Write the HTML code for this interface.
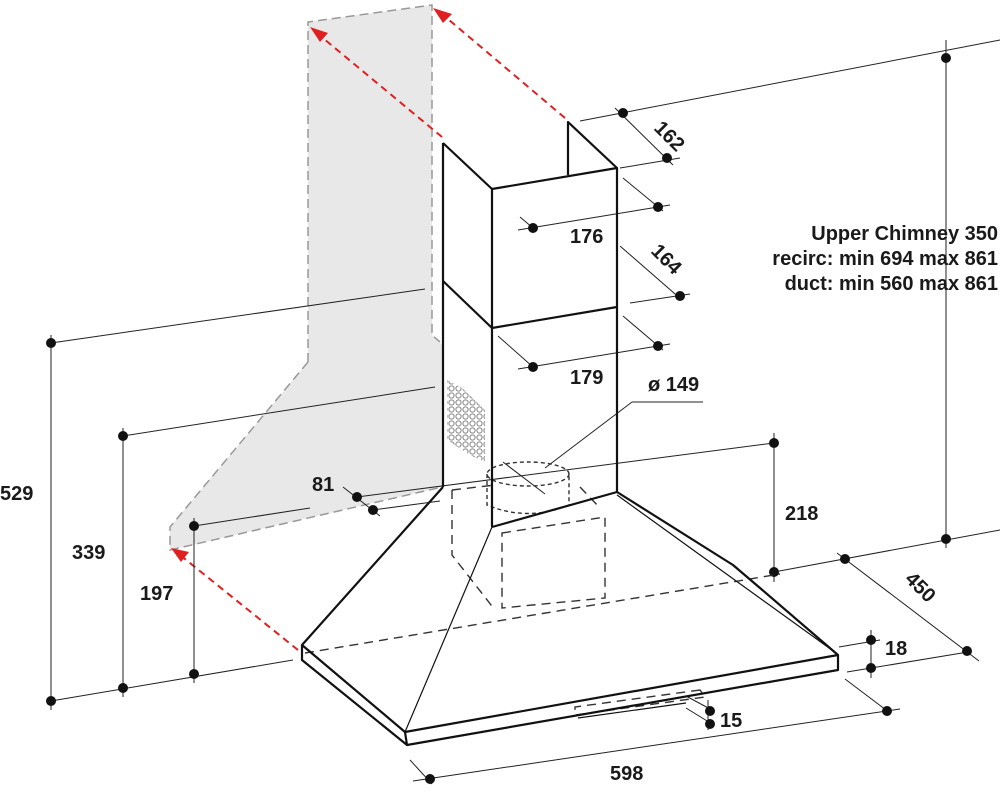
<!DOCTYPE html>
<html><head><style>
body{margin:0;background:#fff;}
svg{display:block;}
text{font-family:"Liberation Sans",sans-serif;font-weight:bold;fill:#1a1a1a;}
</style></head><body>
<svg width="1000" height="799" viewBox="0 0 1000 799" xmlns="http://www.w3.org/2000/svg">
<defs>
<pattern id="hex" width="7" height="7" patternUnits="userSpaceOnUse">
<circle cx="3.5" cy="3.5" r="2.6" fill="none" stroke="#888" stroke-width="1"/>
</pattern>
<marker id="ar" markerWidth="10" markerHeight="10" refX="1" refY="5" orient="auto" markerUnits="userSpaceOnUse">
<path d="M0,5 L14,0 L10,5 L14,10Z" fill="#e02020" transform="scale(0.9)"/>
</marker>
</defs>
<!-- gray wall silhouette -->
<path d="M308,22 L432,5 L432,335 L442,345 L442,487 L170,550 L170,527 L308,362 Z" fill="#e8e8e8"/>
<path d="M308,362 L308,22 L432,5 L432,335 L440,342 M308,362 L170,527 L170,550 L442,487" fill="none" stroke="#999" stroke-width="1.5" stroke-dasharray="9,5"/>
<!-- red dashed arrows -->
<g stroke="#e02020" stroke-width="2" stroke-dasharray="7,5" fill="none">
<line x1="442" y1="137" x2="318" y2="34"/>
<line x1="565" y1="118" x2="442" y2="14"/>
<line x1="298" y1="650" x2="180" y2="555"/>
</g>
<g fill="#e02020">
<path d="M310,27 L328,33 L320,42Z"/>
<path d="M433,8 L452,14 L443,23Z"/>
<path d="M171,548 L189,552 L181,562Z"/>
</g>
<!-- dimension thin lines -->
<g stroke="#222" stroke-width="1" fill="none">
<line x1="51" y1="335" x2="51" y2="710"/>
<line x1="51" y1="343" x2="425" y2="289"/>
<line x1="51" y1="701" x2="293" y2="660"/>
<line x1="123" y1="428" x2="123" y2="697"/>
<line x1="123" y1="436" x2="435" y2="387"/>
<line x1="194" y1="518" x2="194" y2="683"/>
<line x1="194" y1="526" x2="310" y2="508"/>
<line x1="343" y1="487" x2="380" y2="516"/>
<line x1="357" y1="497" x2="774" y2="443"/>
<line x1="373" y1="510" x2="440" y2="501"/>
<line x1="774" y1="433" x2="774" y2="582"/>
<line x1="774" y1="572" x2="1000" y2="530"/>
<line x1="946" y1="40" x2="946" y2="548"/>
<line x1="580" y1="121" x2="1000" y2="40"/>
<line x1="620" y1="168" x2="680" y2="158"/>
<line x1="615" y1="108" x2="673" y2="165"/>
<line x1="837" y1="553" x2="979" y2="661"/>
<line x1="839" y1="647" x2="880" y2="640"/>
<line x1="847" y1="672" x2="968" y2="652"/>
<line x1="871" y1="630" x2="871" y2="678"/>
<line x1="845" y1="679" x2="890" y2="713"/>
<line x1="413" y1="781" x2="900" y2="709"/>
<line x1="410" y1="760" x2="432" y2="784"/>
<line x1="520" y1="217" x2="533" y2="228"/>
<line x1="518" y1="230" x2="670" y2="205"/>
<line x1="623" y1="178" x2="663" y2="211"/>
<line x1="620" y1="246" x2="682" y2="300"/>
<line x1="630" y1="303" x2="690" y2="294"/>
<line x1="498" y1="336" x2="533" y2="367"/>
<line x1="518" y1="369" x2="670" y2="344"/>
<line x1="623" y1="316" x2="663" y2="350"/>
<line x1="632" y1="402" x2="703" y2="402"/>
<line x1="632" y1="402" x2="545" y2="468"/>
<line x1="503" y1="462" x2="545" y2="494"/>
<line x1="686" y1="696" x2="712" y2="710"/>
<line x1="686" y1="708" x2="712" y2="724"/>
<line x1="708" y1="700" x2="708" y2="730"/>
</g>
<!-- dots -->
<g fill="#111">
<circle cx="51" cy="343" r="5"/><circle cx="51" cy="701" r="5"/>
<circle cx="123" cy="436" r="5"/><circle cx="123" cy="688" r="5"/>
<circle cx="194" cy="526" r="5"/><circle cx="194" cy="674" r="5"/>
<circle cx="357" cy="497" r="5"/><circle cx="373" cy="510" r="5"/>
<circle cx="774" cy="443" r="5"/><circle cx="774" cy="572" r="5"/>
<circle cx="946" cy="58" r="5"/><circle cx="946" cy="539" r="5"/>
<circle cx="845" cy="559" r="5"/><circle cx="967" cy="651" r="5"/>
<circle cx="871" cy="640" r="5"/><circle cx="871" cy="668" r="5"/>
<circle cx="887" cy="711" r="5"/><circle cx="430" cy="779" r="5"/>
<circle cx="623" cy="113" r="5"/><circle cx="667" cy="158" r="5"/>
<circle cx="533" cy="228" r="5"/><circle cx="658" cy="207" r="5"/>
<circle cx="680" cy="296" r="5"/>
<circle cx="533" cy="367" r="5"/><circle cx="658" cy="346" r="5"/>
<circle cx="710" cy="711" r="5"/><circle cx="710" cy="724" r="5"/>
</g>
<!-- vent grille -->
<path d="M447,380 L462,388 L485,410 L485,462 L470,455 L447,440 Z" fill="url(#hex)"/>
<!-- dashed hidden lines -->
<g stroke="#333" stroke-width="1.4" fill="none" stroke-dasharray="9,6">
<line x1="305" y1="653" x2="780" y2="574"/>
<path d="M452,490 L452,555 L495,610"/>
<line x1="452" y1="490" x2="495" y2="485"/>
<path d="M502,533 L605,517 L605,598 L502,608 Z"/>
<path d="M580,487 L600,508"/>
<path d="M700,690 L575,707 L575,715 L705,697 Z"/>
</g>
<g stroke="#333" stroke-width="1.4" fill="none" stroke-dasharray="4,3">
<ellipse cx="528" cy="474" rx="41" ry="12"/>
<path d="M487,474 L487,505 Q528,522 569,505 L569,474"/>
</g>
<!-- chimney -->
<g stroke="#111" stroke-width="2.2" fill="none" stroke-linejoin="round">
<path d="M443,143 L492,189 L617,168 L568,122 L568,175"/>
<line x1="443" y1="143" x2="443" y2="487"/>
<line x1="492" y1="189" x2="492" y2="527"/>
<line x1="617" y1="168" x2="617" y2="493"/>
<path d="M443,281 L492,328 L617,307"/>
<path d="M492,527 L617,492"/>
<!-- hood -->
<path d="M443,487 L302,645 L302,660 L407,745 L838,670 L838,655 L760,588 L733,565 L617,492"/>
<path d="M302,645 L405,732 L838,655"/>
<line x1="405" y1="732" x2="407" y2="745"/>
</g>
<g stroke="#111" stroke-width="1.2" fill="none">
<line x1="492" y1="527" x2="405" y2="732"/>
<line x1="617" y1="495" x2="836" y2="653"/>
<path d="M578,718 L686,703"/>
</g>
<!-- labels -->
<text x="0" y="500" font-size="20">529</text>
<text x="72" y="559" font-size="20">339</text>
<text x="140" y="600" font-size="20">197</text>
<text x="312" y="491" font-size="20">81</text>
<text x="785" y="520" font-size="20">218</text>
<text x="885" y="655" font-size="20">18</text>
<text x="720" y="727" font-size="20">15</text>
<text x="610" y="780" font-size="20">598</text>
<text x="570" y="243" font-size="20">176</text>
<text x="570" y="384" font-size="20">179</text>
<text x="648" y="391" font-size="20">ø 149</text>
<text font-size="20" transform="translate(653,129) rotate(45)">162</text>
<text font-size="20" transform="translate(650,252) rotate(45)">164</text>
<text font-size="20" transform="translate(904,580) rotate(45)">450</text>
<text x="998" y="240" font-size="20" text-anchor="end">Upper Chimney 350</text>
<text x="998" y="265" font-size="20" text-anchor="end">recirc: min 694 max 861</text>
<text x="998" y="290" font-size="20" text-anchor="end">duct: min 560 max 861</text>
</svg>
</body></html>
